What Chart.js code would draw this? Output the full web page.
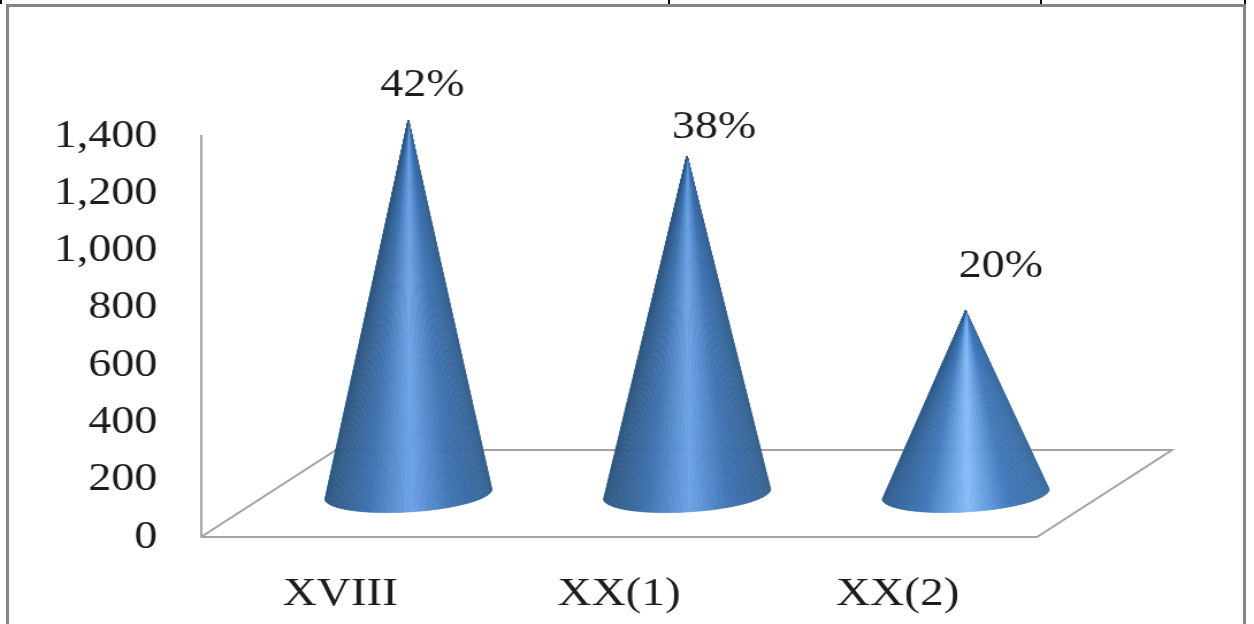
<!DOCTYPE html>
<html>
<head>
<meta charset="utf-8">
<script src="https://cdn.jsdelivr.net/npm/chart.js@4"></script>
<style>
html, body { margin: 0; padding: 0; background: #fff; overflow: hidden; }
#wrap { position: relative; width: 1254px; height: 624px; }
#myChart { position: absolute; left: 0; top: 0; width: 1254px; height: 624px; }
.frame { position: absolute; background: #858585; }
.mark { position: absolute; top: 0; width: 2px; height: 4px; background: #000; }
</style>
</head>
<body>
<div id="wrap">
	<canvas id="myChart" width="1090" height="624" style="width:1254px;height:624px"></canvas>
	<div class="frame" style="left:6px;top:4px;width:1239px;height:3px"></div>
	<div class="frame" style="left:6px;top:4px;width:3px;height:620px"></div>
	<div class="frame" style="left:1243px;top:4px;width:3px;height:620px"></div>
	<div class="mark" style="left:0"></div>
	<div class="mark" style="left:668px"></div>
	<div class="mark" style="left:1040px"></div>
	<div class="mark" style="left:1244px"></div>
</div>
<script>
const categories = ['XVIII', 'XX(1)', 'XX(2)'];
const values = [1305, 1180, 640];
const percents = ['42%', '38%', '20%'];
const yTicks = [0, 200, 400, 600, 800, 1000, 1200, 1400];

// canvas is 1090 wide and stretched to 1254 by css, the source picture is stretched too
const sx = 1254 / 1090;
const depthX = 135 / sx, depthY = 87;
const coneX = 68 / sx, coneY = 43;
const lineColor = '#a3a3a3';
const textColor = '#1c1c1c';
const serif = '"Liberation Serif", serif';

const coneShades = [
	['#34618f', '#3f73b4', '#6ca3e6', '#3f72b0', '#2e5781'],
	['#34618f', '#3f73b4', '#6ca3e6', '#3f72b0', '#2e5781'],
	['#3a6ba0', '#4179bd', '#86bcfa', '#4179bb', '#2f5c8c']
];
const labelNudge = [[14, -35], [27, -29], [35, -44]];

function hex(c) {
	return [1, 3, 5].map(i => parseInt(c.substr(i, 2), 16));
}

function shadeAt(stops, u) {
	const p = u * (stops.length - 1);
	const i = Math.min(Math.floor(p), stops.length - 2);
	const a = hex(stops[i]), b = hex(stops[i + 1]), t = p - i;
	return 'rgb(' + a.map((v, k) => Math.round(v + (b[k] - v) * t)).join(',') + ')';
}

function drawCone(ctx, bar, stops) {
	const cx = bar.x + coneX;
	const cy = bar.base - coneY;
	const topY = bar.y - coneY;
	const rx = bar.width / 2, ry = 18, rot = -0.07;
	const n = 90;
	const pt = a => [
		cx + rx * Math.cos(a) * Math.cos(rot) - ry * Math.sin(a) * Math.sin(rot),
		cy + rx * Math.cos(a) * Math.sin(rot) + ry * Math.sin(a) * Math.cos(rot)
	];
	for (let i = 0; i < n; i++) {
		const a0 = Math.PI * i / n, a1 = Math.PI * (i + 1) / n;
		const p0 = pt(a0), p1 = pt(a1);
		const col = shadeAt(stops, 1 - (1 + Math.cos((a0 + a1) / 2)) / 2);
		ctx.fillStyle = col;
		ctx.strokeStyle = col;
		ctx.lineWidth = 0.6;
		ctx.beginPath();
		ctx.moveTo(cx, topY);
		ctx.lineTo(p0[0], p0[1]);
		ctx.lineTo(p1[0], p1[1]);
		ctx.closePath();
		ctx.fill();
		ctx.stroke();
	}
}

const conePlugin = {
	id: 'cones',
	beforeDatasetsDraw(chart) {
		const ctx = chart.ctx, area = chart.chartArea;
		ctx.save();
		ctx.strokeStyle = lineColor;
		ctx.lineWidth = 2;
		ctx.beginPath();
		ctx.moveTo(area.left, area.bottom);
		ctx.lineTo(area.left + depthX, area.bottom - depthY);
		ctx.lineTo(area.right + depthX, area.bottom - depthY);
		ctx.lineTo(area.right, area.bottom);
		ctx.stroke();
		ctx.restore();
	},
	afterDatasetsDraw(chart) {
		const ctx = chart.ctx;
		ctx.save();
		chart.getDatasetMeta(0).data.forEach((bar, i) => {
			drawCone(ctx, bar, coneShades[i]);
			ctx.fillStyle = textColor;
			ctx.font = '40px ' + serif;
			ctx.textAlign = 'center';
			ctx.textBaseline = 'middle';
			ctx.fillText(percents[i], bar.x + coneX + labelNudge[i][0] / sx, bar.y - coneY + labelNudge[i][1]);
		});
		ctx.restore();
	}
};

const ctx = document.getElementById('myChart').getContext('2d');
const myChart = new Chart(ctx, {
	type: 'bar',
	plugins: [conePlugin],
	data: {
		labels: categories,
		datasets: [{
			data: values,
			backgroundColor: 'rgba(0, 0, 0, 0)',
			barPercentage: 0.6,
			categoryPercentage: 1
		}]
	},
	options: {
		responsive: false,
		animation: false,
		devicePixelRatio: 1,
		layout: { padding: { top: 136, right: 1090 - 1037 / sx, left: 0, bottom: 0 } },
		plugins: { legend: { display: false }, tooltip: { enabled: false } },
		scales: {
			x: {
				afterFit(scale) { scale.height = 87; },
				grid: { display: false },
				border: { color: lineColor, width: 2 },
				ticks: { color: textColor, padding: 25, font: { family: serif, size: 41 } }
			},
			y: {
				min: 0,
				max: 1400,
				afterFit(scale) { scale.width = 201 / sx; },
				afterBuildTicks(scale) { scale.ticks = yTicks.map(v => ({ value: v })); },
				grid: { display: false, drawTicks: false },
				border: { color: lineColor, width: 2 },
				ticks: { color: textColor, padding: 38, font: { family: serif, size: 40 } }
			}
		}
	}
});
</script>
</body>
</html>
